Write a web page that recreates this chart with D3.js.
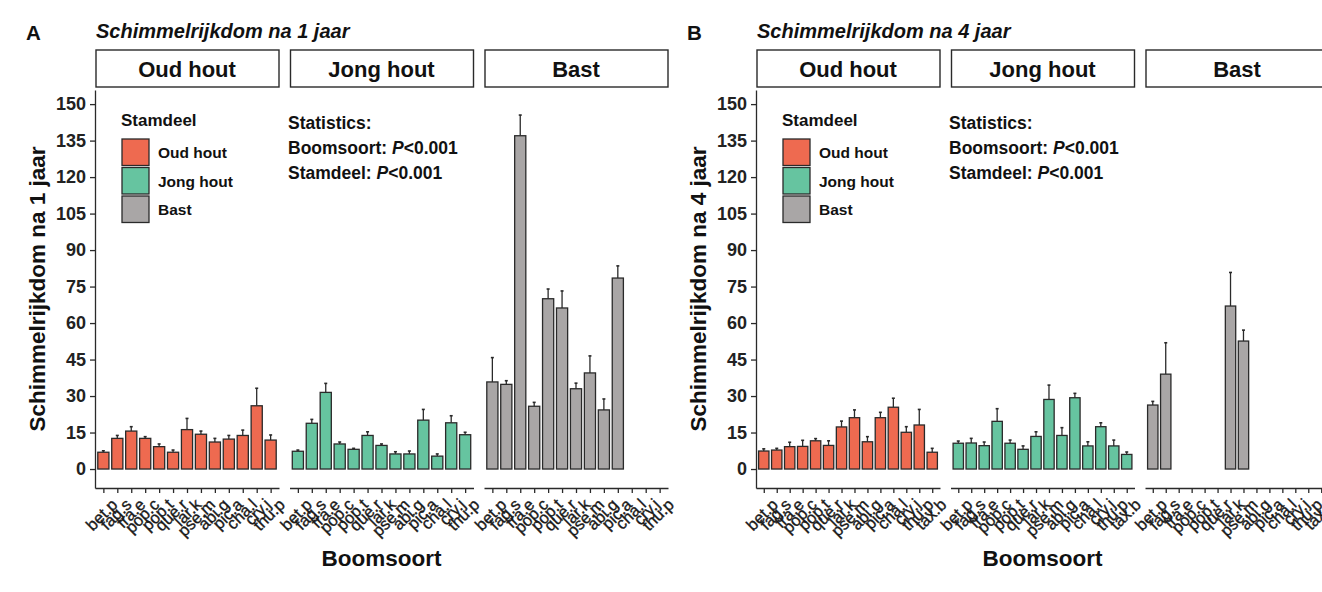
<!DOCTYPE html>
<html><head><meta charset="utf-8">
<script src="https://cdn.jsdelivr.net/npm/d3@7"></script>
<style>body{margin:0;background:#fff;overflow:hidden} svg{display:block} text{font-family:"Liberation Sans",Arial,sans-serif}</style>
</head><body><svg id="c" width="1322" height="592"></svg>
<script>
// ---------- data ----------
const speciesA = ["bet.p","fag.s","fra.e","pop.c","pop.t","que.r","lar.k","pse.m","abi.g","pic.a","cha.l","cry.j","thu.p"];
const speciesB = ["bet.p","fag.s","fra.e","pop.c","pop.t","que.r","lar.k","pse.m","abi.g","pic.a","cha.l","cry.j","thu.p","tax.b"];
const stamdelen = ["Oud hout","Jong hout","Bast"];
const yTicks = [0,15,30,45,60,75,90,105,120,135,150];

// Panel A: richness after 1 year (mean, standard error)
const a1_oud      = [6.9,12.6,15.6,12.6,9.2,6.9,16.2,14.3,11.1,12.3,13.8,26.0,11.9];
const a1_oud_se   = [0.6,1.2,1.8,0.7,1.1,0.9,4.6,1.3,1.5,1.5,2.2,7.2,2.1];
const a1_jong     = [7.3,18.8,31.5,10.3,8.1,13.8,9.7,6.2,6.2,20.1,5.3,19.0,14.1];
const a1_jong_se  = [0.5,1.6,3.7,0.8,0.4,1.5,0.6,0.9,1.2,4.4,0.9,2.9,1.0];
const a1_bast     = [35.8,34.8,137.0,25.8,70.0,66.2,33.0,39.5,24.3,78.5,null,null,null];
const a1_bast_se  = [10.0,1.5,8.5,1.6,4.0,7.0,2.3,7.0,4.5,5.0,null,null,null];

// Panel B: richness after 4 years
const b4_oud      = [7.4,7.8,9.2,9.3,11.6,9.7,17.3,21.1,11.2,21.1,25.4,15.1,18.1,6.9];
const b4_oud_se   = [0.9,0.7,1.8,2.5,0.9,1.9,2.4,3.2,2.1,2.2,3.7,2.3,6.4,1.6];
const b4_jong     = [10.6,10.7,9.6,19.6,10.6,8.1,13.4,28.6,13.8,29.3,9.5,17.4,9.5,6.0];
const b4_jong_se  = [0.9,1.9,1.5,5.2,1.3,1.4,1.9,5.9,3.2,1.8,1.7,1.6,2.4,1.0];
const b4_bast     = [26.3,39.0,null,null,null,null,67.0,52.6,null,null,null,null,null,null];
const b4_bast_se  = [1.5,12.9,null,null,null,null,13.8,4.5,null,null,null,null,null,null];

const colors = {"Oud hout":"#EE6A50","Jong hout":"#66C4A0","Bast":"#A9A6A6"};

// ---------- drawing ----------
const svg = d3.select("#c");
const y = d3.scaleLinear().domain([-7.8,155.8]).range([488,90]);
const facetW = 184, facetGap = 10.5;
const dark = "#2a2a2a";

function drawPanel(o){
  const g = svg.append("g");
  // letter + title
  g.append("text").attr("x", o.x0-69).attr("y", 40).attr("font-size", 20.5).attr("font-weight","bold").attr("fill","#111").text(o.letter);
  g.append("text").attr("x", o.x0+1).attr("y", 38).attr("font-size", 20).attr("font-weight","bold").attr("font-style","italic").attr("fill","#111").text(o.title);
  // y axis
  const ya = g.append("g").attr("transform", `translate(${o.x0},0)`)
    .call(d3.axisLeft(y).tickValues(yTicks).tickSize(5).tickSizeOuter(0).tickPadding(4));
  ya.select(".domain").attr("stroke", dark).attr("stroke-width", 1.3);
  ya.selectAll(".tick line").attr("stroke", dark).attr("stroke-width", 1.3);
  ya.selectAll(".tick text").attr("font-size", 18).attr("font-weight","bold").attr("fill","#222").attr("font-family","Liberation Sans, Arial, sans-serif");
  // y title
  g.append("text").attr("transform", `translate(${o.x0-50},${(90+488)/2}) rotate(-90)`)
    .attr("text-anchor","middle").attr("font-size", 22.5).attr("font-weight","bold").attr("fill","#111").text(o.ylab);

  stamdelen.forEach((s, i) => {
    const left = o.x0 + i*(facetW+facetGap);
    const x = d3.scalePoint().domain(o.cats).range([left, left+facetW]).padding(0.6);
    const step = x.step();
    const bw = step*0.8;
    // strip
    g.append("rect").attr("x", left+1).attr("y", 50).attr("width", facetW-1).attr("height", 37)
      .attr("fill","#fff").attr("stroke", dark).attr("stroke-width", 1.4);
    g.append("text").attr("x", left+facetW/2).attr("y", 77).attr("text-anchor","middle")
      .attr("font-size", 22).attr("font-weight","bold").attr("fill","#111").text(s);
    // x axis
    const xa = g.append("g").attr("transform", `translate(0,488)`)
      .call(d3.axisBottom(x).tickSize(5).tickSizeOuter(0));
    xa.select(".domain").attr("stroke", dark).attr("stroke-width", 1.3);
    xa.selectAll(".tick line").attr("stroke", dark).attr("stroke-width", 1.3);
    xa.selectAll(".tick text").attr("x",0).attr("y",0).attr("dy","0.75em")
      .attr("transform","translate(6,9) rotate(-45)")
      .attr("text-anchor","end").attr("font-size", 16.5).attr("fill","#1a1a1a")
      .attr("stroke","#1a1a1a").attr("stroke-width",0.35)
      .attr("font-family","Liberation Sans, Arial, sans-serif");
    // bars
    const vals = o.data[i].v, se = o.data[i].se;
    const rows = o.cats.map((c, j) => ({c, v: vals[j], se: se[j]})).filter(d => d.v != null);
    const eb = g.append("g");
    eb.selectAll("line.eb").data(rows).join("line")
      .attr("x1", d => x(d.c)).attr("x2", d => x(d.c))
      .attr("y1", d => y(d.v)).attr("y2", d => y(d.v + d.se))
      .attr("stroke", dark).attr("stroke-width", 1.3);
    eb.selectAll("line.cap").data(rows).join("line")
      .attr("x1", d => x(d.c)-1.5).attr("x2", d => x(d.c)+1.5)
      .attr("y1", d => y(d.v + d.se)).attr("y2", d => y(d.v + d.se))
      .attr("stroke", dark).attr("stroke-width", 1.6);
    g.append("g").selectAll("rect").data(rows).join("rect")
      .attr("x", d => x(d.c)-bw/2).attr("width", bw)
      .attr("y", d => y(d.v)).attr("height", d => y(0)-y(d.v))
      .attr("fill", colors[s]).attr("stroke", dark).attr("stroke-width", 1.3);
    // x title
    if (i === 1) {
      g.append("text").attr("x", left+facetW/2).attr("y", 566).attr("text-anchor","middle")
        .attr("font-size", 22.5).attr("font-weight","bold").attr("fill","#111").text("Boomsoort");
    }
  });

  // legend
  const lx = o.x0 + 26;
  const lg = g.append("g");
  lg.append("text").attr("x", lx).attr("y", 126).attr("font-size", 17).attr("font-weight","bold").attr("fill","#111").text("Stamdeel");
  stamdelen.forEach((s, k) => {
    const ky = 139 + k*28.5;
    lg.append("rect").attr("x", lx+1).attr("y", ky).attr("width", 27).attr("height", 26.5)
      .attr("fill", colors[s]).attr("stroke", dark).attr("stroke-width", 1.3);
    lg.append("text").attr("x", lx+37).attr("y", ky+19).attr("font-size", 15.5).attr("font-weight","bold").attr("fill","#111").text(s);
  });

  // statistics
  const sx = o.x0 + 193;
  const st = g.append("g").attr("font-size", 17.5).attr("font-weight","bold").attr("fill","#111");
  st.append("text").attr("x", sx).attr("y", 129).text("Statistics:");
  [["Boomsoort: ", 154], ["Stamdeel: ", 179]].forEach(([lab, yy]) => {
    const t = st.append("text").attr("x", sx).attr("y", yy);
    t.append("tspan").text(lab);
    t.append("tspan").attr("font-style","italic").text("P");
    t.append("tspan").text("<0.001");
  });
}

drawPanel({x0: 95, cats: speciesA, letter: "A", title: "Schimmelrijkdom na 1 jaar", ylab: "Schimmelrijkdom na 1 jaar",
  data: [{v:a1_oud, se:a1_oud_se},{v:a1_jong, se:a1_jong_se},{v:a1_bast, se:a1_bast_se}]});
drawPanel({x0: 756, cats: speciesB, letter: "B", title: "Schimmelrijkdom na 4 jaar", ylab: "Schimmelrijkdom na 4 jaar",
  data: [{v:b4_oud, se:b4_oud_se},{v:b4_jong, se:b4_jong_se},{v:b4_bast, se:b4_bast_se}]});
</script></body></html>
